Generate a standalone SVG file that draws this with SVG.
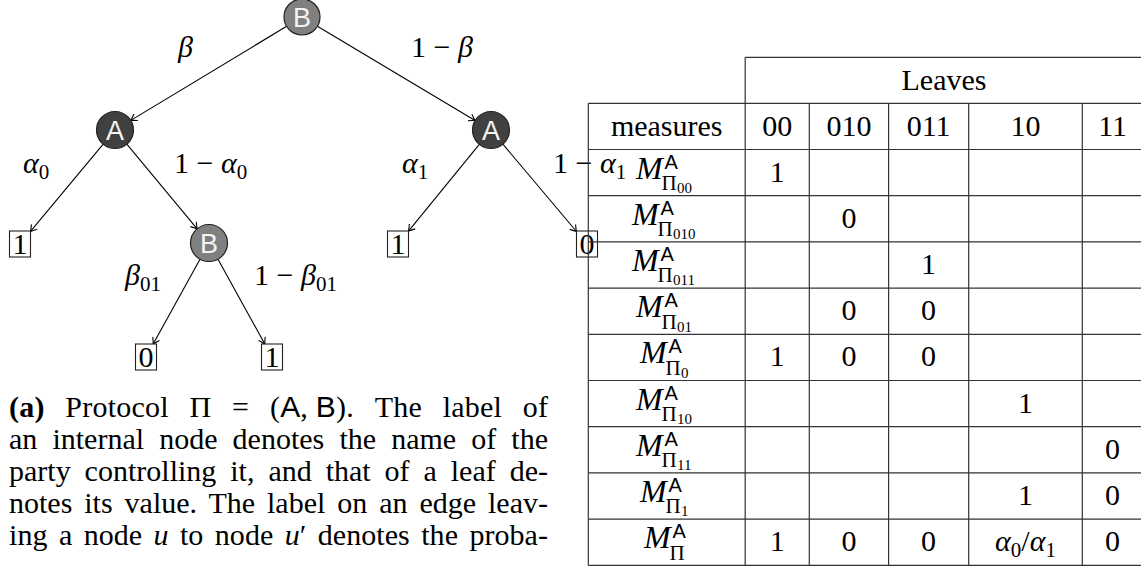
<svg xmlns="http://www.w3.org/2000/svg" width="1141" height="569" viewBox="0 0 1141 569">
<style>
.m{font-family:"Liberation Serif",serif;font-size:30px;fill:#000}
.it{font-style:italic}
.sub{font-size:21px;font-style:normal}
.sf{font-family:"Liberation Sans",sans-serif}
.cap{font-family:"Liberation Serif",serif;font-size:30px;fill:#000}
.nb{fill:#808080;stroke:#222;stroke-width:1.2}
.na{fill:#404040;stroke:#222;stroke-width:1.2}
.nt{font-family:"Liberation Sans",sans-serif;font-size:27px;fill:#f4f4f4;text-anchor:middle}
.leaf{fill:#fff;stroke:#222;stroke-width:1.1}
.edge{stroke:#000;stroke-width:1.1;fill:none;marker-end:url(#arr)}
.tl{stroke:#333;stroke-width:1.2;fill:none}
.c{text-anchor:middle}
.mm{font-family:"Liberation Serif",serif;font-size:32px;font-style:italic;fill:#000}
.msup{font-family:"Liberation Sans",sans-serif;font-size:20px;font-style:normal}
.mpi{font-size:21px;font-style:normal}
.mss{font-size:15px;font-style:normal}
</style>
<defs>
<marker id="arr" viewBox="-8 -5 10 10" refX="0" refY="0" markerWidth="10" markerHeight="10" markerUnits="userSpaceOnUse" orient="auto">
<path d="M-6,-3.8 Q-2,-1 0,0 Q-2,1 -6,3.8" fill="none" stroke="#000" stroke-width="1.1"/>
</marker>
</defs>

<g id="connectors">
<line class="edge" x1="286.6" y1="26.3" x2="130.8" y2="120.4"/>
<line class="edge" x1="317.4" y1="26.2" x2="475.1" y2="120.5"/>
<line class="edge" x1="103.2" y1="144.2" x2="30.5" y2="231.4"/>
<line class="edge" x1="126.8" y1="144.2" x2="197.2" y2="228.8"/>
<line class="edge" x1="479.3" y1="144.3" x2="408.5" y2="231.1"/>
<line class="edge" x1="502.9" y1="144.2" x2="576.5" y2="231.5"/>
<line class="edge" x1="200" y1="259.2" x2="153.2" y2="344"/>
<line class="edge" x1="218" y1="259.2" x2="264.8" y2="344"/>
<text class="m it" x="178" y="57">β</text>
<text class="m" x="411" y="57">1 − <tspan class="it">β</tspan></text>
<text class="m it" x="23" y="173">α<tspan class="sub" dy="6">0</tspan></text>
<text class="m" x="174" y="173">1 − <tspan class="it">α</tspan><tspan class="sub" dy="6">0</tspan></text>
<text class="m it" x="402" y="173">α<tspan class="sub" dy="6">1</tspan></text>
<text class="m" x="553" y="173">1 − <tspan class="it">α</tspan><tspan class="sub" dy="6">1</tspan></text>
<text class="m it" x="125" y="285">β<tspan class="sub" dy="6">01</tspan></text>
<text class="m" x="254" y="285">1 − <tspan class="it">β</tspan><tspan class="sub" dy="6">01</tspan></text>
</g>

<g id="n_root"><circle class="nb" cx="302" cy="17" r="18"/><text class="nt" x="302" y="26.5">B</text></g>
<g id="n_A0"><circle class="na" cx="115" cy="130" r="18.5"/><text class="nt" x="115" y="139.5">A</text></g>
<g id="n_A1"><circle class="na" cx="491" cy="130" r="18.5"/><text class="nt" x="491" y="139.5">A</text></g>
<g id="n_B01"><circle class="nb" cx="209" cy="243" r="18.5"/><text class="nt" x="209" y="252.5">B</text></g>
<g id="leaf_00"><rect class="leaf" x="9.5" y="231" width="21" height="26"/><text class="m c" x="20" y="254">1</text></g>
<g id="leaf_10"><rect class="leaf" x="387.5" y="231" width="21" height="26"/><text class="m c" x="398" y="254">1</text></g>
<g id="leaf_11"><rect class="leaf" x="576.5" y="231" width="21" height="26"/><text class="m c" x="587" y="254">0</text></g>
<g id="leaf_010"><rect class="leaf" x="135.5" y="344" width="21" height="26"/><text class="m c" x="146" y="367">0</text></g>
<g id="leaf_011"><rect class="leaf" x="261.5" y="344" width="21" height="26" stroke-width="2"/><text class="m c" x="272" y="367">1</text></g>

<g id="table">
<path class="tl" d="M745.2,57.3H1141 M745.2,57.3V565.3 M588.3,103.3V565.3 M809.3,103.3V565.3 M888.6,103.3V565.3 M968.7,103.3V565.3 M1082.3,103.3V565.3"/>
<path class="tl" d="M588.3,103.3H1141 M588.3,149.5H1141 M588.3,195.7H1141 M588.3,241.9H1141 M588.3,288.1H1141 M588.3,334.3H1141 M588.3,380.5H1141 M588.3,426.7H1141 M588.3,472.9H1141 M588.3,519.1H1141 M588.3,565.3H1141"/>
<text class="m c" x="944" y="90">Leaves</text>
<text class="m c" x="666.7" y="136">measures</text>
<text class="m c" x="777.2" y="136">00</text>
<text class="m c" x="849" y="136">010</text>
<text class="m c" x="928.6" y="136">011</text>
<text class="m c" x="1025.5" y="136">10</text>
<text class="m c" x="1112.6" y="136">11</text>

<text class="mm"><tspan x="636" y="178.5">M</tspan><tspan class="msup" x="664.5" y="168.5">A</tspan><tspan class="mpi" x="661.5" y="190">Π</tspan><tspan class="mss" x="677" y="193">00</tspan></text>
<text class="mm"><tspan x="632" y="224.7">M</tspan><tspan class="msup" x="660.5" y="214.7">A</tspan><tspan class="mpi" x="657.5" y="236.2">Π</tspan><tspan class="mss" x="673" y="239.2">010</tspan></text>
<text class="mm"><tspan x="632" y="270.9">M</tspan><tspan class="msup" x="660.5" y="260.9">A</tspan><tspan class="mpi" x="657.5" y="282.4">Π</tspan><tspan class="mss" x="673" y="285.4">011</tspan></text>
<text class="mm"><tspan x="636" y="317.1">M</tspan><tspan class="msup" x="664.5" y="307.1">A</tspan><tspan class="mpi" x="661.5" y="328.6">Π</tspan><tspan class="mss" x="677" y="331.6">01</tspan></text>
<text class="mm"><tspan x="640" y="363.3">M</tspan><tspan class="msup" x="668.5" y="353.3">A</tspan><tspan class="mpi" x="665.5" y="374.8">Π</tspan><tspan class="mss" x="681" y="377.8">0</tspan></text>
<text class="mm"><tspan x="636" y="409.5">M</tspan><tspan class="msup" x="664.5" y="399.5">A</tspan><tspan class="mpi" x="661.5" y="421">Π</tspan><tspan class="mss" x="677" y="424">10</tspan></text>
<text class="mm"><tspan x="636" y="455.7">M</tspan><tspan class="msup" x="664.5" y="445.7">A</tspan><tspan class="mpi" x="661.5" y="467.2">Π</tspan><tspan class="mss" x="677" y="470.2">11</tspan></text>
<text class="mm"><tspan x="640" y="501.9">M</tspan><tspan class="msup" x="668.5" y="491.9">A</tspan><tspan class="mpi" x="665.5" y="513.4">Π</tspan><tspan class="mss" x="681" y="516.4">1</tspan></text>
<text class="mm"><tspan x="644" y="548.1">M</tspan><tspan class="msup" x="672.5" y="538.1">A</tspan><tspan class="mpi" x="669.5" y="559.6">Π</tspan></text>

<text class="m c" x="777.2" y="181.5">1</text>
<text class="m c" x="849" y="227.7">0</text>
<text class="m c" x="928.6" y="273.9">1</text>
<text class="m c" x="849" y="320.1">0</text>
<text class="m c" x="928.6" y="320.1">0</text>
<text class="m c" x="777.2" y="366.3">1</text>
<text class="m c" x="849" y="366.3">0</text>
<text class="m c" x="928.6" y="366.3">0</text>
<text class="m c" x="1025.5" y="412.5">1</text>
<text class="m c" x="1112.6" y="458.7">0</text>
<text class="m c" x="1025.5" y="504.9">1</text>
<text class="m c" x="1112.6" y="504.9">0</text>
<text class="m c" x="777.2" y="551.1">1</text>
<text class="m c" x="849" y="551.1">0</text>
<text class="m c" x="928.6" y="551.1">0</text>
<text class="m c" x="1025.5" y="551.1"><tspan class="it">α</tspan><tspan class="sub" dy="6">0</tspan><tspan dy="-6">/</tspan><tspan class="it">α</tspan><tspan class="sub" dy="6">1</tspan></text>
<text class="m c" x="1112.6" y="551.1">0</text>
</g>

<g id="caption">
<text class="cap" x="9" y="417" textLength="539" lengthAdjust="spacing" word-spacing="13"><tspan font-weight="bold">(a)</tspan> Protocol Π = (<tspan class="sf">A</tspan>,&#8197;<tspan class="sf">B</tspan>). The label of</text>
<text class="cap" x="9" y="449" textLength="539" lengthAdjust="spacing" word-spacing="7.6">an internal node denotes the name of the</text>
<text class="cap" x="9" y="481" textLength="539" lengthAdjust="spacing" word-spacing="6.4">party controlling it, and that of a leaf de-</text>
<text class="cap" x="9" y="513" textLength="539" lengthAdjust="spacing" word-spacing="4.4">notes its value. The label on an edge leav-</text>
<text class="cap" x="9" y="545" textLength="539" lengthAdjust="spacing" word-spacing="3.8">ing a node <tspan font-style="italic">u</tspan> to node <tspan font-style="italic">u</tspan>′ denotes the proba-</text>
</g>
</svg>
